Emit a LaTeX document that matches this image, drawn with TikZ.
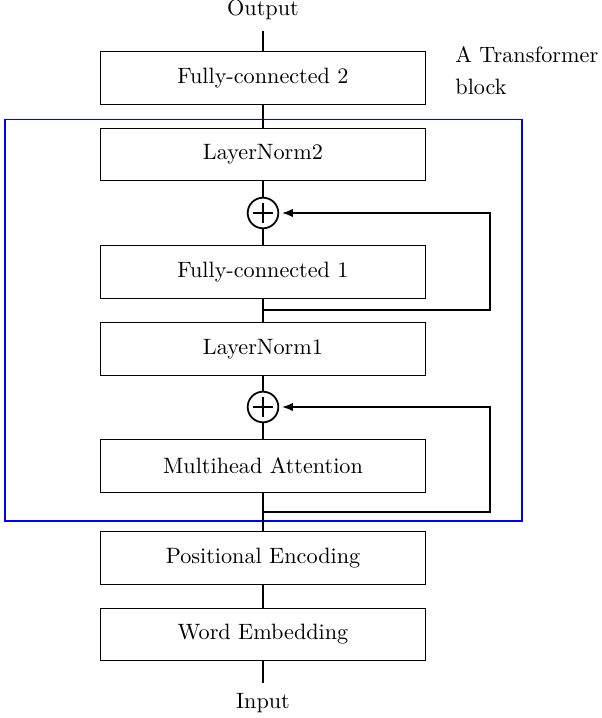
\documentclass[tikz,border=0pt]{standalone}
\usetikzlibrary{arrows.meta}
\begin{document}
\begin{tikzpicture}[x=0.4505pt,y=-0.4505pt,
  blk/.style={draw, line width=0.4pt, minimum width=146.4pt, minimum height=23.65pt, inner sep=0pt},
  addc/.style={draw, circle, line width=0.8pt, minimum size=13.8pt, inner sep=0pt,
    path picture={
      \draw[line width=0.6pt] ([xshift=-4.6pt]path picture bounding box.center) -- ([xshift=4.6pt]path picture bounding box.center);
      \draw[line width=0.6pt] ([yshift=-4.6pt]path picture bounding box.center) -- ([yshift=4.6pt]path picture bounding box.center);}},
  conn/.style={line width=0.8pt},
  fb/.style={line width=0.8pt, -{Latex[length=5pt,width=3.8pt]}, shorten >=1.2pt},
  lbl/.style={inner xsep=0pt, inner ysep=4.4pt},
  frame/.style={draw=blue, line width=0.9pt}]
\useasboundingbox (0,0) rectangle (601,718);
\draw[frame] (5,119.5) rectangle (521.5,520.5);

\node[lbl, anchor=base] (out) at (263,16) {Output};
\node[blk] (fc2) at (263,78) {Fully-connected 2};
\node[blk] (ln2) at (263,154.5) {LayerNorm2};
\node[addc] (op1) at (263,213) {};
\node[blk] (fc1) at (263,272) {Fully-connected 1};
\node[blk] (ln1) at (263,348.8) {LayerNorm1};
\node[addc] (op2) at (263,407) {};
\node[blk] (mha) at (263,466) {Multihead Attention};
\node[blk] (pe) at (263,558) {Positional Encoding};
\node[blk] (we) at (263,634.5) {Word Embedding};
\node[lbl, anchor=base] (in) at (263,708) {Input};
\node[anchor=north west, align=left, inner sep=0pt] (lab) at (455,46.6) {A Transformer\\[2.4pt]block};

\draw[conn] (out) -- (fc2) -- (ln2) -- (op1) -- (fc1) -- (ln1) -- (op2) -- (mha) -- (pe) -- (we) -- (in);

\coordinate (s1) at (263,310);
\coordinate (s2) at (263,511.7);
\draw[fb] (s1) -- (490,310) |- (op1);
\draw[fb] (s2) -- (490,511.7) |- (op2);
\end{tikzpicture}
\end{document}
